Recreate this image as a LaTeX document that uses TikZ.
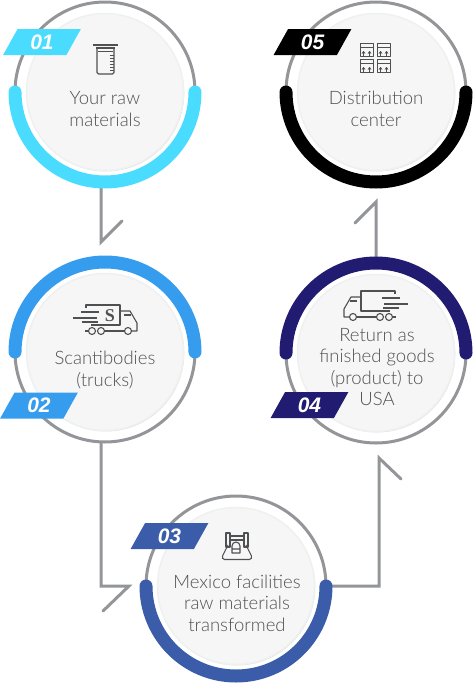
\documentclass[tikz,border=0pt]{standalone}
\usepackage{fontspec}
\setmainfont{Lato}[UprightFont={* Light}]
\newfontfamily\badgefont{Liberation Sans}
\newfontfamily\logofont{Liberation Serif}
\usetikzlibrary{shapes.geometric,shadows}

\definecolor{ringgray}{HTML}{939598}
\definecolor{discgray}{HTML}{F6F6F6}
\definecolor{rimgray}{HTML}{E2E3E4}
\definecolor{textgray}{HTML}{4F5052}
\definecolor{stepone}{HTML}{4ADCFF}
\definecolor{steptwo}{HTML}{369CEE}
\definecolor{stepthree}{HTML}{3B5CA9}
\definecolor{stepfour}{HTML}{211C71}

\tikzset{
ring/.style={circle, draw=ringgray, fill=white, line width=3pt, minimum size=180pt, inner sep=0pt, outer sep=0pt},
disc/.style={circle, draw=rimgray!55, fill=discgray, line width=1.5pt, minimum size=157pt, inner sep=0pt,
  drop shadow={shadow xshift=0.8pt, shadow yshift=-1pt, fill=rimgray, opacity=1}},
flowline/.style={draw=ringgray, line width=3pt, line cap=round},
bandarc/.style={line width=13pt, line cap=round},
iconline/.style={draw=textgray, line width=1.1pt, line join=round},
caption/.style={align=center, text=textgray, inner sep=0pt, font=\fontsize{18.5}{21.5}\selectfont},
badge/.style={trapezium, trapezium stretches=true, trapezium left angle=65, trapezium right angle=115,
  minimum width=78pt, minimum height=26pt, inner sep=0pt, text=white, font=\badgefont\bfseries\itshape\fontsize{21}{21}\selectfont}
}

% truck seen from the side, cab to the right
\newcommand{\truckicon}{
\draw[iconline] (86,308) -- (86,305) -- (120,305) -- (120,325) -- (91,325);
\draw[iconline] (81,312) -- (99,312) (73,318) -- (97,318) (82,322) -- (98,322);
\draw[iconline] (120,311) -- (130,311) -- (137,323) -- (137,331) -- (132,331);
\draw[iconline] (124,315) -- (131,315) (85,331) -- (88,331) (105,331) -- (124,331);
\draw[iconline] (92,331) circle (3.5) (101,331) circle (3.5) (128,331) circle (3.5);
}

% four stacked cartons
\newcommand{\cartonicon}{
\foreach \cx/\cy in {360/43, 377/43, 360/59, 377/59}{
  \draw[iconline, line width=1pt] (\cx,\cy) rectangle ++(13,13.5);
  \draw[iconline, line width=0.7pt] (\cx,\cy+4) -- ++(13,0);
  \draw[iconline, line width=0.8pt] (\cx+3.5,\cy+13) -- ++(0,-4) (\cx+9.5,\cy+13) -- ++(0,-4);
  \draw[iconline, line width=0.8pt] (\cx+2,\cy+10.5) -- ++(1.5,-2) -- ++(1.5,2) (\cx+8,\cy+10.5) -- ++(1.5,-2) -- ++(1.5,2);
}
}

\begin{document}
\begin{tikzpicture}[x=1pt, y=-1pt]
\useasboundingbox (0,0) rectangle (473,683);

\node[ring] (ring1) at (105,92) {};
\node[ring, below of=ring1, node distance=260pt] (ring2) {};
\node[ring] (ring3) at (236,586) {};
\node[ring, right of=ring1, node distance=271pt] (ring5) {};
\node[ring, below of=ring5, node distance=261pt] (ring4) {};

\coordinate (bend12) at (101,242);
\coordinate (tip12) at (122,221);
\coordinate (bend23) at (101,586);
\coordinate (corner23) at (129,586);
\coordinate (tip23) at (103,611);
\coordinate (bend34) at (379,586);
\coordinate (corner34) at (379,458);
\coordinate (tip34) at (401,479);
\coordinate (bend45) at (376,202);
\coordinate (tip45) at (355,223);

\draw[flowline] (ring1.south -| bend12) -- (bend12) -- (tip12);
\draw[flowline] (ring2.south -| bend23) -- (bend23) -- (corner23) -- (tip23);
\draw[flowline] (ring3.east) -- (bend34) -- (corner34) -- (tip34);
\draw[flowline] (ring4.north -| bend45) -- (bend45) -- (tip45);

\draw[bandarc, stepone] (ring1.west) arc (180:0:90);
\draw[bandarc, steptwo] (ring2.west) arc (180:360:90);
\draw[bandarc, stepthree] (ring3.west) arc (180:0:90);
\draw[bandarc, stepfour] (ring4.west) arc (180:360:90);
\draw[bandarc, black] (ring5.west) arc (180:0:90);

\node[disc] (disc1) at (ring1) {};
\node[disc] (disc2) at (ring2) {};
\node[disc] (disc3) at (ring3) {};
\node[disc] (disc4) at (ring4) {};
\node[disc] (disc5) at (ring5) {};

% beaker
\draw[iconline] (93,45) -- (118,45) (96,48) -- (115,48);
\draw[iconline, rounded corners=1.5pt] (97,47) -- (97,74) -- (114,74) -- (114,47);
\draw[iconline, line width=0.7pt] (98,51) -- (113,51);
\foreach \gy in {55,58,...,70}{
  \draw[iconline, line width=0.7pt] (110,\gy) -- (114,\gy);
}

% outgoing truck
\truckicon
\node[text=textgray, inner sep=0pt, font=\logofont\bfseries\fontsize{18}{18}\selectfont] (logo2) at (110,316) {S};

% incoming truck
\begin{scope}[shift={(481,-14)}, xscale=-1]
\truckicon
\end{scope}

% telephone
\draw[iconline] (226,533) rectangle (230,547) (244,533) rectangle (248,547);
\draw[iconline] (230,536) -- (244,536) (230,540) -- (244,540);
\draw[iconline, rounded corners=1.5pt] (228,545) -- (222,557) -- (223,559.5) -- (251,559.5) -- (252,557) -- (246,545);
\draw[iconline] (232,553) -- (232,546) arc (180:360:4) -- (240,553) -- cycle (232,549) -- (240,549);

\cartonicon

\node[caption] (text1) at (105,109) {Your raw\\materials};
\node[caption] (text2) at (105,370) {Scantibodies\\(trucks)};
\node[caption] (text3) at (237,603) {Mexico facilities\\raw materials\\transformed};
\node[caption] (text4) at (377,367) {Return as\\finished goods\\(product) to\\USA};
\node[caption] (text5) at (376,109) {Distribution\\center};

\node[badge, fill=stepone] (badge1) at (42,42) {01};
\node[badge, fill=steptwo] (badge2) at (39,405.5) {02};
\node[badge, fill=stepthree] (badge3) at (169.5,536) {03};
\node[badge, fill=stepfour] (badge4) at (309.5,405) {04};
\node[badge, fill=black] (badge5) at (312.5,42) {05};
\end{tikzpicture}
\end{document}
